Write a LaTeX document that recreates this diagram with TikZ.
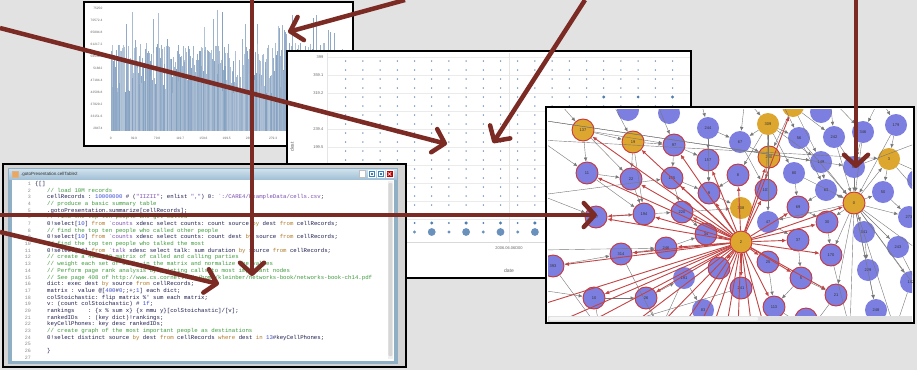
\documentclass[tikz,border=0pt]{standalone}
\usepackage{fontspec}
\setmainfont{Liberation Sans}
\setmonofont{Liberation Mono}
\usetikzlibrary{arrows.meta}
\definecolor{bgc}{HTML}{E2E2E2}
\definecolor{arrowred}{HTML}{7B2A24}
\definecolor{nodeblue}{HTML}{7C7FE0}
\definecolor{nodegold}{HTML}{DDA62F}
\definecolor{nodered}{HTML}{C8343A}
\definecolor{redge}{HTML}{C24444}
\definecolor{gedgec}{HTML}{777777}
\definecolor{barblue}{HTML}{84A0C0}
\definecolor{dotblue}{HTML}{4E7DB0}
\definecolor{cmtgreen}{HTML}{3E9A3E}
\definecolor{kwbrown}{HTML}{B07A2A}
\definecolor{numblue}{HTML}{3A4FD8}
\definecolor{strpurple}{HTML}{7A4FB0}
\definecolor{codetext}{HTML}{1E1E50}
\definecolor{winframe}{HTML}{8FAFC4}
\definecolor{titletop}{HTML}{CFE1EC}
\definecolor{titlebot}{HTML}{A3C1D6}
\definecolor{panelgray}{HTML}{D4D4D4}
\newcommand\ccmt[1]{\textcolor{cmtgreen}{#1}}
\newcommand\ckw[1]{\textcolor{kwbrown}{#1}}
\newcommand\cnum[1]{\textcolor{numblue}{#1}}
\newcommand\cstr[1]{\textcolor{strpurple}{#1}}
\newcommand\bq{\symbol{96}}
\tikzset{
  panelborder/.style={draw=black,line width=1.6pt},
  hlab/.style={font=\fontsize{3.2}{3.2}\selectfont,text=black!60,inner sep=0.5pt},
  dlab/.style={font=\fontsize{4}{4}\selectfont,text=black!60,inner sep=0.5pt},
  codeline/.style={font=\ttfamily\fontsize{5.7}{5.7}\selectfont,text=codetext,inner sep=0pt,anchor=base west},
  lnum/.style={font=\ttfamily\fontsize{5}{5}\selectfont,text=black!45,inner sep=0pt,anchor=base east},
  gnode/.style={circle,minimum size=22pt,inner sep=0pt,font=\fontsize{4}{4}\selectfont,text=black!80},
  bn/.style={gnode,fill=nodeblue},
  br/.style={gnode,fill=nodeblue,draw=nodered,line width=0.9pt},
  gn/.style={gnode,fill=nodegold},
  gr/.style={gnode,fill=nodegold,draw=nodered,line width=0.9pt},
  gedge/.style={draw=gedgec,line width=0.4pt,-{Latex[length=4pt,width=3.5pt]}},
  redgeS/.style={draw=redge,line width=0.9pt,-{Latex[length=4.5pt,width=4pt]}},
  bigarrow/.style={draw=arrowred,line width=4.5pt,-{Straight Barb[length=11pt,width=24pt,round]}},
}
\begin{document}
\begin{tikzpicture}[x=1pt,y=-1pt]
\useasboundingbox (0,0) rectangle (917,370);
\fill[bgc] (0,0) rectangle (917,370);

% ---------------- histogram panel ----------------
\fill[white] (84,2) rectangle (353,146);
\pgfmathsetseed{17}
\foreach \i in {0,...,399}{
  \pgfmathsetmacro\r{rnd}
  \pgfmathsetmacro\s{rnd}
  \pgfmathsetmacro\h{(\s>0.93)*(70+52*\r)+(\s<=0.93)*(38+50*\r)}
  \pgfmathsetmacro\c{int(60+40*rnd)}
  \fill[barblue!\c!white] ({111+\i*0.58},131) rectangle ({111+(\i+1)*0.58},{131-\h});
}
\foreach \v [count=\k from 0] in {28474,33151.6,37829.2,42506.8,47184.4,51862,56539.6,61217.2,65894.8,70572.4,75250}
  \node[hlab,anchor=east] (hy\k) at (103,{128-\k*12}) {\v};
\foreach \v [count=\k from 0] in {0,39.9,79.8,119.7,159.6,199.5,239.4,279.3}
  \node[hlab] (hx\k) at ({110.7+\k*23.2},138) {\v};
\draw[panelborder] (84,2) rectangle (353,146);

% ---------------- dot plot panel ----------------
\fill[white] (287,51) rectangle (691,278);
\foreach \k in {0,...,9} \draw[black!8,line width=0.4pt] (327,{57+\k*18}) -- (690,{57+\k*18});
\draw[black!10,line width=0.4pt] (327,53) -- (327,242);
\draw[black!10,line width=0.4pt] (509,53) -- (509,242);
\draw[black!15,line width=0.4pt] (327,242) -- (690,242);
\foreach \c in {0,...,19}{
  \foreach \r in {0,...,17}{
    \fill[dotblue] ({345.7+\c*17.2},{61+\r*9}) circle (0.75);
  }
}
\foreach \c in {15,17,19} \fill[dotblue] ({345.7+\c*17.2},97) circle (1.6);
\foreach \c in {0,2,...,18} \fill[dotblue] ({345.7+\c*17.2},223) circle (1);
\foreach \c in {1,3,...,19} \fill[dotblue] ({345.7+\c*17.2},223) circle (1.7);
\foreach \c in {0,2,...,18} \fill[dotblue!85] ({345.7+\c*17.2},232) circle (1.6);
\foreach \c in {1,3,...,19} \fill[dotblue!85] ({345.7+\c*17.2},232) circle (3.9);
\foreach \v [count=\k from 0] in {399,359.1,319.2,279.3,239.4,199.5}
  \node[dlab,anchor=east] (dy\k) at (324,{57+\k*18}) {\v};
\node[dlab] (dx) at (509,248) {2006.06.06D00};
\node[dlab,font=\fontsize{5}{5}\selectfont] (dtitle) at (509,271) {date};
\node[dlab,font=\fontsize{5}{5}\selectfont,rotate=90] (ytitle) at (292,147) {dest};
\draw[panelborder] (287,51) rectangle (691,278);

% ---------------- code panel ----------------
\fill[panelgray] (3,164) rectangle (406,367);
\fill[winframe] (8,168) rectangle (398,364);
\shade[top color=titletop,bottom color=titlebot] (9,169) rectangle (397,179);
\fill[white] (12,180) rectangle (394,361);
\fill[black!6] (387.5,181) rectangle (393,359);
\fill[black!16,rounded corners=1pt] (388.3,183) rectangle (392.3,356);
\filldraw[fill=orange!55!brown!70,draw=brown!60] (12,171) rectangle (18,177);
\node[anchor=west,inner sep=0pt,font=\fontsize{4.5}{4.5}\selectfont,text=black!80] (wtitle) at (21,174) {.gotoPresentation.cellTable2};
\filldraw[fill=white,draw=black!25,line width=0.3pt] (359,170.5) rectangle (365,177.5);
\filldraw[fill=blue!45!cyan!70!black!80,draw=white,line width=0.3pt] (368,170.5) rectangle (375,177.5);
\filldraw[fill=blue!45!cyan!70!black!80,draw=white,line width=0.3pt] (377,170.5) rectangle (384,177.5);
\filldraw[fill=red!75!black,draw=white,line width=0.3pt] (386,170.5) rectangle (393,177.5);
\draw[white,line width=0.6pt] (387.8,172.3) -- (391.2,175.7) (387.8,175.7) -- (391.2,172.3);
\draw[white,line width=0.4pt] (370,172.5) rectangle (373,175.5);
\draw[white,line width=0.4pt] (379,172.5) rectangle (382,175.5);
\foreach \i in {1,...,27} \node[lnum] (ln\i) at (31,{183.7+(\i-1)*6.68+1.8}) {\i};
\def\LY#1{{183.7+(#1-1)*6.68+1.8}}
\node[codeline] (l1) at (35,\LY{1}) {\{[]};
\node[codeline] (l2) at (47,\LY{2}) {\ccmt{// load 10M records}};
\node[codeline] (l3) at (47,\LY{3}) {cellRecords : \cnum{10000000} \# (\cstr{"IIZII"}; enlist \cstr{","}) 0: \cstr{\bq:/CARE4/ExampleData/cells.csv};};
\node[codeline] (l4) at (47,\LY{4}) {\ccmt{// produce a basic summary table}};
\node[codeline] (l5) at (47,\LY{5}) {.gotoPresentation.summarize[cellRecords];};
\node[codeline] (l6) at (47,\LY{6}) {\ccmt{// find the top ten people who get called}};
\node[codeline] (l7) at (47,\LY{7}) {0!select[\cnum{10}] \ckw{from} \cstr{\bq counts} xdesc select counts: count source \ckw{by} dest \ckw{from} cellRecords;};
\node[codeline] (l8) at (47,\LY{8}) {\ccmt{// find the top ten people who called other people}};
\node[codeline] (l9) at (47,\LY{9}) {0!select[\cnum{10}] \ckw{from} \cstr{\bq counts} xdesc select counts: count dest \ckw{by} source \ckw{from} cellRecords;};
\node[codeline] (l10) at (47,\LY{10}) {\ccmt{// find the top ten people who talked the most}};
\node[codeline] (l11) at (47,\LY{11}) {0!select[\cnum{10}] \ckw{from} \cstr{\bq talk} xdesc select talk: sum duration \ckw{by} source \ckw{from} cellRecords;};
\node[codeline] (l12) at (47,\LY{12}) {\ccmt{// create a 400x400 matrix of called and calling parties}};
\node[codeline] (l13) at (47,\LY{13}) {\ccmt{// weight each set of calls in the matrix and normalize the values}};
\node[codeline] (l14) at (47,\LY{14}) {\ccmt{// Perform page rank analysis by pointing calls to most important nodes}};
\node[codeline] (l15) at (47,\LY{15}) {\ccmt{// See page 408 of http://www.cs.cornell.edu/home/kleinber/networks-book/networks-book-ch14.pdf}};
\node[codeline] (l16) at (47,\LY{16}) {dict: exec dest \ckw{by} source \ckw{from} cellRecords;};
\node[codeline] (l17) at (47,\LY{17}) {matrix : value @[\cnum{400}\#\cnum{0};;+;\cnum{1}] each dict;};
\node[codeline] (l18) at (47,\LY{18}) {colStoichastic: flip matrix \%' sum each matrix;};
\node[codeline] (l19) at (47,\LY{19}) {v: (count colStoichastic) \# \cnum{1f};};
\node[codeline] (l20) at (47,\LY{20}) {rankings\ \ \ \ : \{x \% sum x\} \{x mmu y\}[colStoichastic]/[v];};
\node[codeline] (l21) at (47,\LY{21}) {rankedIDs\ \ \ : (key dict)!rankings;};
\node[codeline] (l22) at (47,\LY{22}) {keyCellPhones: key desc rankedIDs;};
\node[codeline] (l23) at (47,\LY{23}) {\ccmt{// create graph of the most important people as destinations}};
\node[codeline] (l24) at (47,\LY{24}) {0!select distinct source \ckw{by} dest \ckw{from} cellRecords \ckw{where} dest \ckw{in} \cnum{13}\#keyCellPhones;};
\node[codeline] (l26) at (47,\LY{26}) {\}};
\draw[panelborder] (3,164) rectangle (406,367);

% ---------------- graph panel ----------------
\fill[white] (546,107) rectangle (914,323);
\begin{scope}
\clip (548,109) rectangle (912,316);
\coordinate (o1) at (555,98); \coordinate (o2) at (610,98); \coordinate (o3) at (655,98);
\coordinate (o4) at (700,98); \coordinate (o5) at (745,98); \coordinate (o6) at (780,98);
\coordinate (o7) at (830,98); \coordinate (o8) at (880,98); \coordinate (o9) at (925,140);
\coordinate (o10) at (925,200); \coordinate (o11) at (925,255); \coordinate (o12) at (925,300);
\coordinate (o13) at (540,140); \coordinate (o14) at (540,195); \coordinate (o15) at (540,250);
\coordinate (o16) at (540,290); \coordinate (o17) at (600,330); \coordinate (o18) at (660,330);
\coordinate (o19) at (850,330); \coordinate (o20) at (895,330); \coordinate (o21) at (810,330);
\coordinate (o22) at (540,120); \coordinate (o23) at (925,175);
\coordinate (r1) at (540,305); \coordinate (r2) at (575,330); \coordinate (r3) at (625,330);
\coordinate (r4) at (655,330); \coordinate (r5) at (680,330); \coordinate (r6) at (697,330);
\coordinate (r7) at (712,330); \coordinate (r8) at (726,330); \coordinate (r9) at (738,330);
\coordinate (r10) at (752,330); \coordinate (r11) at (765,330); \coordinate (r12) at (540,330);
% nodes
\node[bn] (t1) at (628,110) {};
\node[bn] (t2) at (669,113) {};
\node[gn] (t3) at (793,106) {};
\node[bn] (t4) at (821,112) {};
\node[bn] (rr) at (918,180) {};
\node[gr] (n137) at (583,130) {137};
\node[gr] (n19) at (633,142) {19};
\node[br] (n97) at (674,145) {97};
\node[bn] (n244) at (708,128) {244};
\node[br] (n157) at (708,160) {157};
\node[br] (n11) at (587,173) {11};
\node[br] (n22) at (631,179) {22};
\node[br] (n155) at (672,178) {155};
\node[br] (n9) at (709,193) {9};
\node[br] (n27) at (596,217) {27};
\node[br] (n194) at (644,214) {194};
\node[br] (n220) at (682,212) {220};
\node[br] (n34) at (706,234) {34};
\node[br] (n314) at (621,254) {314};
\node[br] (n246) at (666,248) {246};
\node[br] (n393) at (553,266) {393};
\node[br] (n10) at (594,298) {10};
\node[br] (n26) at (646,298) {26};
\node[bn] (n191) at (684,278) {191};
\node[br] (nX) at (719,268) {};
\node[bn] (n83) at (703,310) {83};
\node[gn] (n309) at (768,124) {309};
\node[bn] (n67) at (740,142) {67};
\node[bn] (n56) at (799,138) {56};
\node[bn] (n242) at (834,137) {242};
\node[bn] (n346) at (863,132) {346};
\node[bn] (n179) at (896,125) {179};
\node[gr] (n200) at (769,157) {200};
\node[bn] (n149) at (821,162) {149};
\node[bn] (n58) at (854,167) {58};
\node[gn] (n3) at (889,159) {3};
\node[br] (n8) at (738,175) {8};
\node[bn] (n80) at (794,173) {80};
\node[br] (n107) at (766,190) {107};
\node[bn] (n63) at (826,190) {63};
\node[bn] (n50) at (883,192) {50};
\node[gr] (n0) at (854,203) {0};
\node[gn] (n308) at (741,208) {308};
\node[br] (n69) at (798,207) {69};
\node[br] (n30) at (827,222) {30};
\node[bn] (n273) at (909,217) {273};
\node[bn] (n47) at (768,222) {47};
\node[br] (n37) at (798,240) {37};
\node[bn] (n341) at (864,232) {341};
\node[bn] (n243) at (898,247) {243};
\node[br] (n170) at (831,255) {170};
\node[br] (n25) at (768,262) {25};
\node[bn] (n229) at (868,270) {229};
\node[bn] (n142) at (911,282) {142};
\node[br] (n5) at (801,278) {5};
\node[br] (n241) at (741,288) {241};
\node[br] (n21) at (836,295) {21};
\node[br] (n113) at (774,307) {113};
\node[bn] (n248) at (876,310) {248};
\node[br] (b1) at (806,319) {};
\node[gr] (n2) at (741,242) {2};
% gray edges
\foreach \a/\b in {o1/n137,o2/n19,o3/n97,o4/n244,o5/n309,o6/t3,o7/n346,o8/n179,o5/n67,o6/n56,o7/n242,o8/n346,
  n309/n67,n309/n8,n309/n107,n309/n80,n309/n149,n309/n56,n309/n47,t3/n200,t3/n149,t3/n242,
  n137/n11,n137/n22,n137/n19,n19/n97,n19/n22,n19/n194,n97/n155,n97/n157,n244/n157,n244/n9,n157/n9,
  n9/n308,n11/n22,n22/n194,n155/n220,n155/n9,n194/n220,n220/n308,n220/n34,n314/n246,n246/n34,
  n27/n194,n393/n314,n10/n26,n26/n191,o13/n11,o14/n27,o15/n393,o16/n10,o22/n58,o13/n3,o22/n149,
  n0/n341,n0/n229,n0/n248,n0/n243,n0/n142,n0/n273,n0/n50,n0/n63,n0/n3,n0/n21,n0/n170,n0/o19,n0/o20,
  n0/o12,n0/o11,n0/n47,n0/n30,n58/n0,n346/n0,n242/n0,n149/n0,n179/n0,n56/n0,n80/n0,
  n3/n50,n3/o10,n179/n3,n346/n58,n242/n58,n56/n63,n149/n63,n80/n69,n63/n69,n67/n107,n8/n9,
  n47/n37,n69/n30,n30/n170,n37/n5,n5/n113,n25/n113,n241/o17,n10/o17,n26/o18,n191/o18,n341/n229,
  n229/n248,n243/o12,n50/n273,n142/o20,n170/o19,n21/o21,n113/o21,n5/n21,n3/o23,n58/o9,
  n137/n97,n11/n194,o14/n155,o15/n246,n393/o17,n314/o18,n191/n83,n244/n67,n67/n200}
  \draw[gedge] (\a) -- (\b);
% red edges from hub
\foreach \b in {n27,n11,n22,n19,n137,n155,n97,n157,n9,n200,n107,n8,n69,n30,n0,n37,n170,n5,n21,
  n113,n241,n25,n246,n314,n393,n10,n26,n194,n220,n34,nX,t3}
  \draw[redgeS] (n2) -- (\b);
\foreach \b in {r1,r2,r3,r4,r5,r6,r7,r8,r9,r10,r11,r12}
  \draw[draw=redge,line width=0.9pt] (n2) -- (\b);
\draw[redgeS] (n194) -- (n27);
\end{scope}
\fill[black!12] (548,316) rectangle (912,321.5);
\fill[black!4,rounded corners=1pt] (549,317) rectangle (758,320.5);
\draw[panelborder] (546,107) rectangle (914,323);

% ---------------- big arrows ----------------
\coordinate (sA) at (252,0);   \coordinate (eA) at (252,276);
\coordinate (sB) at (0,215);   \coordinate (eB) at (597,215);
\coordinate (sC) at (0,232);   \coordinate (eC) at (219,284);
\coordinate (sD) at (0,28);    \coordinate (eD) at (447,144);
\coordinate (sE) at (405,0);   \coordinate (eE) at (288,32);
\coordinate (sF) at (585,0);   \coordinate (eF) at (493,143);
\coordinate (sG) at (856,0);   \coordinate (eG) at (856,168);
\foreach \p in {A,B,C,D,E,F,G}
  \draw[bigarrow] (s\p) -- (e\p);
\end{tikzpicture}
\end{document}
